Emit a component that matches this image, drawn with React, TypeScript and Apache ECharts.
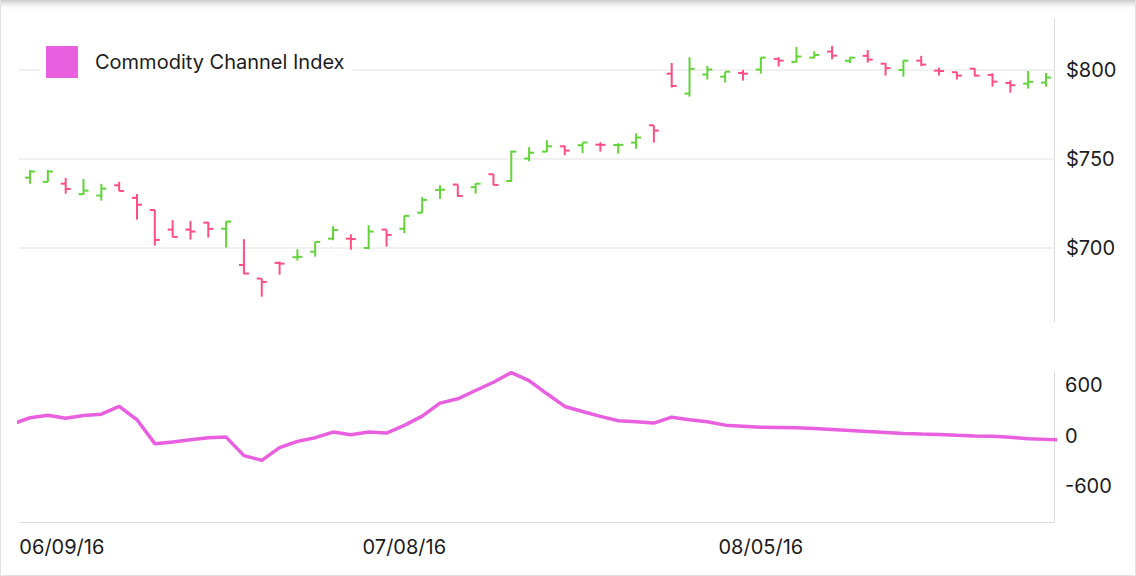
import React, { useEffect, useRef } from "react";
import * as echarts from "echarts";

// Trading days (category labels)
const dates = [
  "06/08/16", "06/09/16", "06/10/16", "06/13/16", "06/14/16", "06/15/16", "06/16/16", "06/17/16",
  "06/20/16", "06/21/16", "06/22/16", "06/23/16", "06/24/16", "06/27/16", "06/28/16", "06/29/16",
  "06/30/16", "07/01/16", "07/05/16", "07/06/16", "07/07/16", "07/08/16", "07/11/16", "07/12/16",
  "07/13/16", "07/14/16", "07/15/16", "07/18/16", "07/19/16", "07/20/16", "07/21/16", "07/22/16",
  "07/25/16", "07/26/16", "07/27/16", "07/28/16", "07/29/16", "08/01/16", "08/02/16", "08/03/16",
  "08/04/16", "08/05/16", "08/08/16", "08/09/16", "08/10/16", "08/11/16", "08/12/16", "08/15/16",
  "08/16/16", "08/17/16", "08/18/16", "08/19/16", "08/22/16", "08/23/16", "08/24/16", "08/25/16",
  "08/26/16", "08/29/16",
];

const opens = [
  739.5, 737.1, 736.1, 730.2, 729.4, 735.2, 728.1, 721.3, 710.3, 710.3, 714.2, 710.8, 690.4, 682.8,
  691.6, 694.8, 697.9, 705.2, 705.2, 700.0, 710.3, 710.8, 719.8, 732.6, 735.6, 734.1, 741.4, 737.6,
  750.2, 754.1, 757.1, 757.7, 758.0, 757.8, 759.2, 768.9, 797.9, 786.7, 797.4, 796.2, 798.3, 800.2,
  806.2, 804.5, 806.9, 810.3, 805.1, 807.9, 803.5, 800.0, 805.2, 799.6, 798.7, 800.7, 797.2, 792.7,
  792.3, 792.9,
];
const highs = [
  743.8, 743.8, 739.3, 738.8, 736.0, 737.1, 730.3, 721.3, 715.6, 715.2, 714.6, 715.0, 704.9, 682.8,
  692.3, 699.3, 703.5, 712.2, 707.7, 712.8, 710.3, 718.1, 728.5, 735.2, 735.6, 736.3, 741.4, 754.7,
  756.6, 760.5, 757.5, 759.2, 759.4, 758.8, 764.4, 768.9, 803.9, 807.1, 802.2, 799.0, 800.0, 807.1,
  807.1, 812.9, 810.5, 813.5, 807.1, 811.2, 803.8, 805.4, 807.9, 801.3, 798.9, 801.0, 798.1, 794.2,
  799.4, 798.3,
];
const lows = [
  736.0, 737.0, 730.5, 729.8, 726.6, 731.9, 715.9, 701.3, 706.0, 704.7, 705.8, 700.2, 685.4, 672.6,
  685.0, 692.9, 695.1, 704.3, 699.0, 699.3, 700.7, 708.3, 719.7, 727.5, 728.8, 730.5, 735.2, 737.1,
  748.7, 753.9, 752.1, 753.2, 754.1, 753.0, 755.8, 759.2, 790.1, 785.0, 794.6, 792.9, 794.0, 797.9,
  801.9, 804.1, 806.6, 806.0, 803.8, 804.1, 796.8, 796.2, 802.1, 796.8, 794.6, 796.5, 790.6, 787.2,
  789.5, 790.6,
];
const closes = [
  742.9, 742.9, 733.1, 732.2, 733.3, 732.0, 724.3, 704.5, 706.2, 709.2, 710.7, 714.8, 685.6, 680.9,
  691.2, 695.0, 703.4, 710.1, 705.0, 709.2, 707.3, 718.0, 727.0, 732.7, 729.2, 736.1, 735.4, 754.1,
  753.5, 757.1, 754.7, 759.2, 757.9, 757.9, 762.0, 765.9, 791.0, 800.6, 800.2, 799.0, 797.9, 806.9,
  805.2, 807.5, 808.4, 808.0, 806.9, 805.8, 801.0, 805.2, 803.0, 799.4, 796.8, 796.8, 793.4, 791.4,
  793.3, 795.7,
];

// Commodity Channel Index, one value per trading day, starting one day before the first bar
const CCI_FIRST_INDEX = -1;
const cciValues = [
  140, 214, 245, 209, 241, 257, 349, 190, -95, -76, -48, -24, -17, -238, -294, -143, -68, -24, 43, 12,
  43, 31, 123, 233, 388, 440, 539, 638, 753, 658, 500, 349, 289, 230, 178, 166, 150, 221, 190, 166,
  126, 114, 102, 99, 95, 87, 75, 63, 51, 39, 27, 19, 15, 4, -4, -8, -20, -36, -44, -53,
];

const priceTicks = [700, 750, 800];
const cciTicks = [-600, 0, 600];
const dateLabelIndexes = [1, 21, 41];

const GREEN = "#62d43a";
const PINK = "#fe4e84";
const MAGENTA = "#e85fe0";
const FONT = 'Inter, "Noto Sans", sans-serif';
const TEXT = "#1c1c1c";
const AXIS = "#dcdcdc";

export default function App() {
  const ref = useRef<HTMLDivElement>(null);

  useEffect(() => {
    const chart = echarts.init(ref.current as HTMLDivElement, null, { renderer: "svg" });
    const ohlc = dates.map((_, i) => [i, opens[i], highs[i], lows[i], closes[i]]);
    const cci = cciValues.map((v, i) => [i + CCI_FIRST_INDEX, v]);
    const XMIN = -0.62;
    const XMAX = 57.45;

    const renderItem = (_params: any, api: any) => {
      const x = api.value(0);
      const o = api.value(1);
      const h = api.value(2);
      const l = api.value(3);
      const c = api.value(4);
      const pO = api.coord([x, o]);
      const pH = api.coord([x, h]);
      const pL = api.coord([x, l]);
      const pC = api.coord([x, c]);
      const color = c >= o ? GREEN : PINK;
      const style = { stroke: color, lineWidth: 2 };
      const tick = 5;
      return {
        type: "group",
        children: [
          { type: "line", shape: { x1: pH[0], y1: pH[1], x2: pL[0], y2: pL[1] }, style },
          { type: "line", shape: { x1: pO[0] - tick, y1: pO[1], x2: pO[0], y2: pO[1] }, style },
          { type: "line", shape: { x1: pC[0], y1: pC[1], x2: pC[0] + tick, y2: pC[1] }, style },
        ],
      };
    };

    const axisLabelBase = { color: TEXT, fontSize: 20, fontFamily: FONT };

    chart.setOption({
      animation: false,
      backgroundColor: "#ffffff",
      legend: {
        show: true,
        left: 40,
        top: 40,
        padding: [6, 8, 6, 6],
        itemWidth: 32,
        itemHeight: 32,
        icon: "rect",
        backgroundColor: "#ffffff",
        textStyle: { color: TEXT, fontSize: 20, fontFamily: FONT, padding: [0, 0, 0, 12] },
        data: ["Commodity Channel Index"],
      },
      grid: [
        { left: 19, right: 82, top: 19, height: 303 },
        { left: 19, right: 82, top: 372, height: 150 },
      ],
      xAxis: [
        { type: "value", gridIndex: 0, min: XMIN, max: XMAX, show: false },
        {
          type: "value",
          gridIndex: 1,
          min: XMIN,
          max: XMAX,
          axisLine: { show: true, onZero: false, lineStyle: { color: AXIS, width: 1 } },
          axisTick: { show: false, customValues: dateLabelIndexes },
          splitLine: { show: false },
          axisLabel: {
            ...axisLabelBase,
            margin: 15,
            customValues: dateLabelIndexes,
            formatter: (v: number) =>
              v === dateLabelIndexes[0] ? `{f|${dates[v]}}` : dates[v],
            rich: { f: { ...axisLabelBase, padding: [0, 0, 0, 28] } },
          },
        },
      ],
      yAxis: [
        {
          type: "value",
          gridIndex: 0,
          position: "right",
          min: 658.4,
          max: 828.6,
          axisLine: { show: true, onZero: false, lineStyle: { color: AXIS, width: 1 } },
          axisTick: { show: false, customValues: priceTicks },
          axisLabel: { ...axisLabelBase, margin: 12, customValues: priceTicks, formatter: "${value}" },
          splitLine: { show: true, lineStyle: { color: "#f0f0f0", width: 2 } },
        },
        {
          type: "value",
          gridIndex: 1,
          position: "right",
          min: -1030,
          max: 760,
          axisLine: { show: true, onZero: false, lineStyle: { color: AXIS, width: 1 } },
          axisTick: { show: false, customValues: cciTicks },
          axisLabel: { ...axisLabelBase, margin: 11, customValues: cciTicks },
          splitLine: { show: false },
        },
      ],
      series: [
        {
          type: "custom",
          name: "OHLC",
          xAxisIndex: 0,
          yAxisIndex: 0,
          data: ohlc,
          encode: { x: 0, y: [1, 2, 3, 4] },
          renderItem,
        },
        {
          type: "line",
          name: "Commodity Channel Index",
          xAxisIndex: 1,
          yAxisIndex: 1,
          data: cci,
          symbol: "none",
          showSymbol: false,
          clip: true,
          lineStyle: { color: MAGENTA, width: 3.5 },
          itemStyle: { color: MAGENTA },
        },
      ],
    });
    return () => chart.dispose();
  }, []);

  return (
    <div style={{ position: "fixed", left: 0, top: 0, width: 1136, height: 576, background: "#fff" }}>
      <div ref={ref} style={{ position: "absolute", left: 0, top: 0, width: 1136, height: 576 }} />
      <div
        style={{
          position: "absolute",
          left: 0,
          top: 0,
          width: 1136,
          height: 576,
          boxSizing: "border-box",
          borderLeft: "1px solid #e2e2e2",
          borderRight: "1px solid #e2e2e2",
          borderBottom: "1px solid #e2e2e2",
          boxShadow: "inset 0 9px 8px -8px rgba(0,0,0,0.35)",
          pointerEvents: "none",
        }}
      />
    </div>
  );
}
